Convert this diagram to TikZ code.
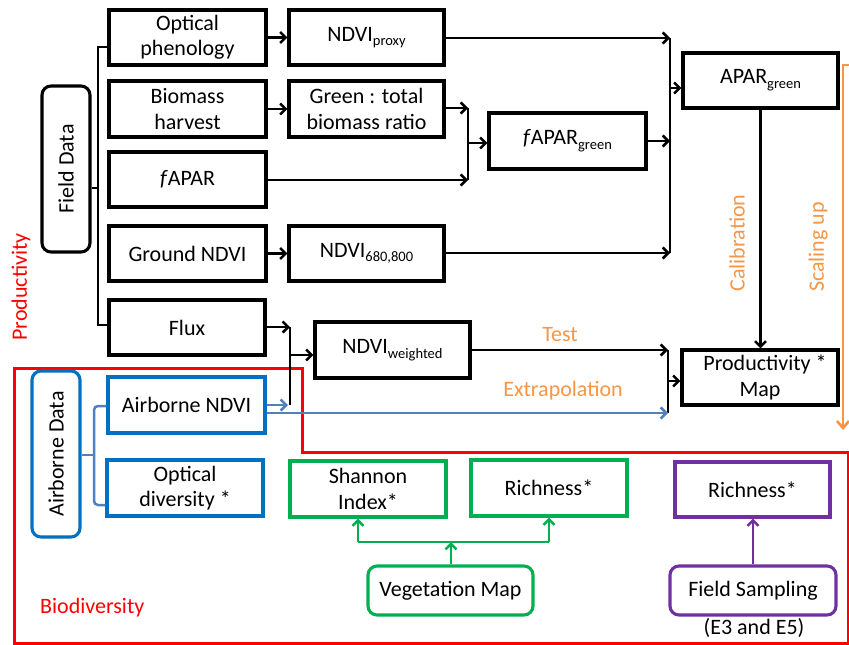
\documentclass[tikz,border=0pt]{standalone}
\usepackage{fontspec}
\setmainfont{Carlito}
\usetikzlibrary{arrows.meta}
\definecolor{cblue}{RGB}{0,112,192}
\definecolor{lblue}{RGB}{79,129,189}
\definecolor{cgreen}{RGB}{0,176,80}
\definecolor{cpurple}{RGB}{112,48,160}
\definecolor{corange}{RGB}{247,150,70}
\definecolor{cred}{RGB}{255,0,0}
\newcommand\lowsub[1]{\raisebox{-0.45ex}{\fontsize{14.5}{14.5}\selectfont #1}}
\begin{document}
\begin{tikzpicture}[x=1pt,y=-1pt,font=\fontsize{22}{25.5}\selectfont,
  box/.style={draw=black,line width=3.1pt,align=center,inner sep=0pt,fill=white},
  rbox/.style={box,rounded corners=9pt},
  conn/.style={line width=2.5pt},
  arr/.style={conn,-{Straight Barb[length=5.5pt,width=11pt]}},
  arrb/.style={arr,lblue},
  arrg/.style={arr,cgreen},
  arrp/.style={arr,cpurple},
  lbl/.style={inner sep=0pt,corange}]
\useasboundingbox (0,0) rectangle (849,645);
\fill[white] (0,0) rectangle (849,645);

% red biodiversity region
\draw[cred,line width=3pt] (14,368) -- (302,368) -- (302,452) -- (848,452) -- (848,643) -- (14,643) -- cycle;

% productivity boxes
\node[rbox,rotate=90,minimum width=166pt,minimum height=48pt] (fd) at (66,169) {Field Data};
\node[box,minimum width=157pt,minimum height=55pt] (op) at (187.5,37.5) {Optical\\phenology};
\node[box,minimum width=157pt,minimum height=56pt] (bh) at (187.5,109) {Biomass\\harvest};
\node[box,minimum width=157pt,minimum height=55pt] (fa) at (187.5,179.5) {\textit{f}APAR};
\node[box,minimum width=157pt,minimum height=55pt] (gn) at (187.5,253.5) {Ground NDVI};
\node[box,minimum width=156pt,minimum height=55pt] (fl) at (187,327.5) {Flux};
\node[box,minimum width=155pt,minimum height=55pt] (np) at (366.5,37.5) {NDVI\lowsub{proxy}};
\node[box,minimum width=155pt,minimum height=56pt] (gt) at (366.5,109) {Green : total\\biomass ratio};
\node[box,minimum width=155pt,minimum height=55pt] (n68) at (366.5,253.5) {NDVI\lowsub{680,800}};
\node[box,minimum width=155pt,minimum height=56pt] (nw) at (392.5,350) {NDVI\lowsub{weighted}};
\node[box,minimum width=157pt,minimum height=56pt] (fg) at (567.5,141) {\textit{f}APAR\lowsub{green}};
\node[box,minimum width=155pt,minimum height=55pt] (ag) at (760.5,80.5) {APAR\lowsub{green}};
\node[box,minimum width=156pt,minimum height=55pt] (pm) at (760,377.5) {\hspace*{10pt}Productivity *\\Map};

% biodiversity boxes
\node[rbox,draw=cblue,rotate=90,minimum width=166pt,minimum height=48pt] (ad) at (56,454) {Airborne Data};
\node[box,draw=cblue,minimum width=157pt,minimum height=56pt] (an) at (186.5,405) {Airborne NDVI};
\node[box,draw=cblue,minimum width=156pt,minimum height=56pt] (od) at (185,488) {Optical\\diversity *};
\node[box,draw=cgreen,minimum width=156pt,minimum height=56pt] (sh) at (368,489) {Shannon\\Index*};
\node[box,draw=cgreen,minimum width=156pt,minimum height=56pt] (rg) at (549,488) {Richness*};
\node[rbox,draw=cgreen,minimum width=165pt,minimum height=49pt] (vm) at (450.5,590.5) {Vegetation Map};
\node[box,draw=cpurple,minimum width=155pt,minimum height=55pt] (rp) at (752.5,489.5) {Richness*};
\node[rbox,draw=cpurple,minimum width=166pt,minimum height=49pt] (fs) at (753,590.5) {Field Sampling};

% field data bracket
\coordinate (j1) at (98,47);
\coordinate (j2) at (98,325);
\coordinate (j3) at (98,188);
\draw[conn] (op.west |- j1) -- (j1) -- (j2) -- (fl.west |- j2);
\draw[conn] (fd.south |- j3) -- (j3);

% first column arrows
\draw[arr] (op.east) -- (np.west);
\draw[arr] (bh.east) -- (gt.west);
\draw[arr] (gn.east) -- (n68.west);

% fAPAR green junction
\coordinate (k1) at (468,108);
\coordinate (k2) at (468,180);
\coordinate (k3) at (468,143);
\draw[arr] (gt.east |- k1) -- (k1);
\draw[arr] (fa.east |- k2) -- (k2);
\draw[conn] (k1) -- (k2);
\draw[arr] (k3) -- (fg.west |- k3);

% APAR green junction
\coordinate (m1) at (670,38);
\coordinate (m2) at (670,141);
\coordinate (m3) at (670,253);
\coordinate (m4) at (670,88);
\draw[arr] (np.east |- m1) -- (m1);
\draw[arr] (fg.east |- m2) -- (m2);
\draw[arr] (n68.east |- m3) -- (m3);
\draw[conn] (m1) -- (m3);
\draw[arr] (m4) -- (ag.west |- m4);
\draw[arr] (ag.south) -- (ag.south |- pm.north);

% flux junction
\coordinate (f1) at (290,327);
\coordinate (f2) at (290,405);
\coordinate (f3) at (290,355);
\draw[arr] (fl.east |- f1) -- (f1);
\draw[conn] (f1) -- (f2);
\draw[arr] (f3) -- (nw.west |- f3);
\draw[arrb] (an.east) -- (288,405);

% productivity map junction
\coordinate (p1) at (668,350);
\coordinate (p2) at (668,413);
\coordinate (p3) at (668,381);
\draw[arr] (nw.east |- p1) -- (p1);
\draw[conn] (p1) -- (p2);
\draw[arr] (p3) -- (pm.west |- p3);
\draw[arrb] (an.east |- p2) -- (p2);

% airborne bracket
\coordinate (b1) at (94,406);
\coordinate (b2) at (94,505);
\coordinate (b3) at (94,455);
\draw[conn,lblue,rounded corners=4pt] (an.west |- b1) -- (b1) -- (b2) -- (od.west |- b2);
\draw[conn,lblue] (ad.south |- b3) -- (b3);

% vegetation map connectors
\coordinate (g1) at (358,542);
\coordinate (g2) at (549,542);
\coordinate (g3) at (451,542);
\draw[conn,cgreen] (g1) -- (g2);
\draw[arrg] (g1) -- (g1 |- sh.south);
\draw[arrg] (g2) -- (g2 |- rg.south);
\draw[arrg] (vm.north -| g3) -- (g3);
\draw[arrp] (fs.north) -- (fs.north |- rp.south);

% scaling up bracket
\draw[corange,line width=2.6pt,-{Straight Barb[length=7pt,width=12pt]}] (852,65) -- (843,65) -- (843,430);

% labels
\node[lbl,rotate=90] (cal) at (737,243) {Calibration};
\node[lbl,rotate=90] (scu) at (818,247) {Scaling up};
\node[lbl] (tst) at (560,335) {Test};
\node[lbl] (ext) at (563,391) {Extrapolation};
\node[inner sep=0pt,cred,rotate=90] (prd) at (21,287) {Productivity};
\node[inner sep=0pt,cred,anchor=west] (bio) at (40,608) {Biodiversity};
\node[inner sep=0pt] (e35) at (754,628) {(E3 and E5)};
\end{tikzpicture}
\end{document}
